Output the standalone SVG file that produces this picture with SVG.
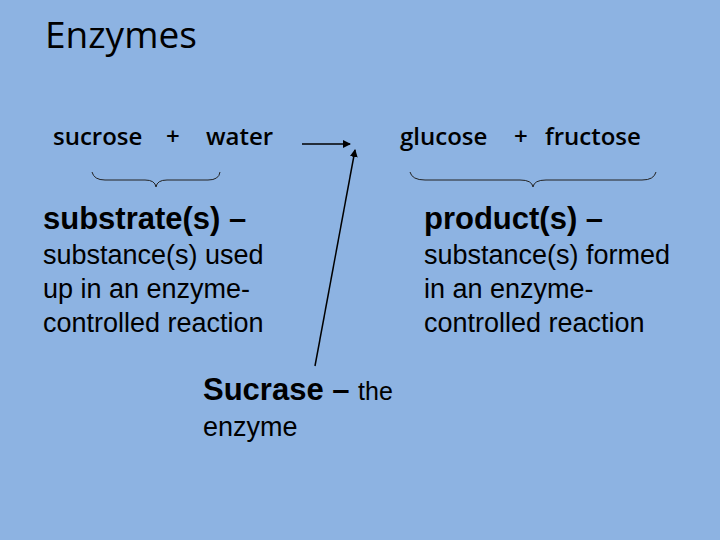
<svg xmlns="http://www.w3.org/2000/svg" width="720" height="540" viewBox="0 0 720 540">
<style>
.c{font-family:"Open Sans","Liberation Sans",sans-serif;fill:#000}
.e{font-weight:600;font-size:24px}
.a{font-family:"Liberation Sans",Arial,sans-serif;fill:#000}
.b{font-weight:bold;font-size:31px}
.n{font-size:27px}
.ln{stroke:#000;stroke-width:1.5;fill:none}
.br{stroke:#222;stroke-width:1;fill:none}
</style>
<defs><marker id="ah" markerWidth="8" markerHeight="8" refX="7" refY="4" orient="auto" markerUnits="userSpaceOnUse"><path d="M0,0L8,4L0,8z" fill="#000"/></marker></defs>
<rect width="720" height="540" fill="#8db3e2"/>
<text class="c" x="45" y="48" font-size="37">Enzymes</text>
<g id="eq">
<text class="c e" x="53" y="145">sucrose</text>
<text class="c e" x="166" y="145">+</text>
<text class="c e" x="206" y="145">water</text>
<text class="c e" x="400" y="145">glucose</text>
<text class="c e" x="514" y="145">+</text>
<text class="c e" x="545" y="145">fructose</text>
</g>
<g id="connectors">
<line class="ln" x1="302" y1="144" x2="350" y2="144" marker-end="url(#ah)"/>
<line class="ln" x1="315" y1="366" x2="355" y2="150" marker-end="url(#ah)"/>
<path class="br" d="M92,172 Q94,180 105,180 L145,180 Q155,180 156,187 Q157,180 167,180 L208,180 Q219,180 220,172"/>
<path class="br" d="M410,172 Q412,180 425,180 L520,180 Q532,180 533,187 Q534,180 546,180 L642,180 Q654,180 656,172"/>
</g>
<g id="substrate">
<text class="a b" x="43" y="229">substrate(s) –</text>
<text class="a n" x="43" y="264">substance(s) used</text>
<text class="a n" x="43" y="298">up in an enzyme-</text>
<text class="a n" x="43" y="332">controlled reaction</text>
</g>
<g id="product">
<text class="a b" x="424" y="229">product(s) –</text>
<text class="a n" x="424" y="264">substance(s) formed</text>
<text class="a n" x="424" y="298">in an enzyme-</text>
<text class="a n" x="424" y="332">controlled reaction</text>
</g>
<g id="enzyme">
<text class="a" x="203" y="400"><tspan font-size="31" font-weight="bold">Sucrase – </tspan><tspan font-size="25">the</tspan></text>
<text class="a n" x="203" y="436">enzyme</text>
</g>
</svg>
